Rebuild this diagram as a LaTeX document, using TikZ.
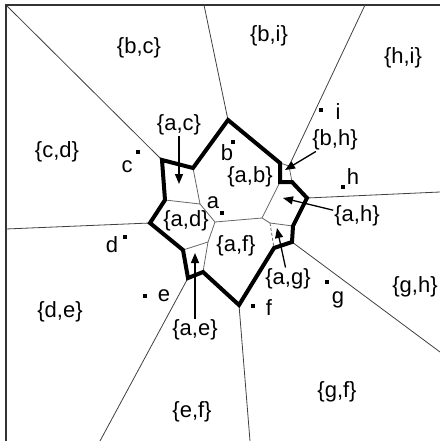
\documentclass[tikz,border=0pt]{standalone}
\usepackage{fontspec}
\setmainfont{Liberation Sans}
\usetikzlibrary{arrows.meta}

\begin{document}
\begin{tikzpicture}[
    x=1pt, y=-1pt,
    every node/.style={font=\fontsize{22}{22}\selectfont, inner sep=1pt},
    outline/.style={line width=4pt, line join=miter},
    split/.style={line width=0.8pt, black!60},
    ray/.style={line width=0.8pt, black!75},
    site/.style={fill=black, minimum size=4pt, inner sep=0pt},
    pointer/.style={-{Triangle[length=10pt,width=8pt]}, line width=1.3pt}
]
\useasboundingbox (0,0) rectangle (440,441);
% Frame
\draw[line width=1.6pt, black!80] (6,441) -- (6,5) -- (440,5);
% Vertices of the outer boundary
\coordinate (v1) at (228,120);
\coordinate (v2) at (280,163);
\coordinate (v3) at (280,182);
\coordinate (v4) at (292,182);
\coordinate (v5) at (307,198);
\coordinate (v6) at (293,226);
\coordinate (v7) at (292,242);
\coordinate (v8) at (274,248);
\coordinate (v9) at (239,305);
\coordinate (v10) at (203,272);
\coordinate (v11) at (188,278);
\coordinate (v12) at (183,250);
\coordinate (v13) at (150,223);
\coordinate (v14) at (165,200);
\coordinate (v15) at (162,160);
\coordinate (v16) at (193,168);
% Inner vertices
\coordinate (i1) at (200,204);
\coordinate (i2) at (215,222);
\coordinate (i3) at (262,218);
\coordinate (i4) at (208,242);
\coordinate (i5) at (270,223);
\coordinate (s1) at (289,166);
% Ends of the rays
\coordinate (ec) at (7,6);
\coordinate (eb) at (204,5);
\coordinate (ebh) at (365,5);
\coordinate (eh) at (440,192);
\coordinate (egh) at (440,352);
\coordinate (ef) at (250,441);
\coordinate (ee) at (100,441);
\coordinate (ed) at (6,229);
% Rays
\draw[ray] (v15) -- (ec);
\draw[ray] (v1) -- (eb);
\draw[ray] (s1) -- (ebh);
\draw[ray] (v5) -- (eh);
\draw[ray] (v7) -- (egh);
\draw[ray] (v9) -- (ef);
\draw[ray] (v11) -- (ee);
\draw[ray] (v13) -- (ed);
% Inner splits
\draw[split] (v16) -- (i1) -- (v14);
\draw[split] (i1) -- (i2) -- (i3) -- (v3);
\draw[split] (i2) -- (i4) -- (v10);
\draw[split] (v12) -- (i4);
\draw[split] (i3) -- (i5) -- (v6);
\draw[split, densely dashed] (i5) -- (v8);
\draw[split] (v2) -- (s1) -- (v4);
% Outer boundary
\draw[outline] (v1) -- (v2) -- (v3) -- (v4) -- (v5) -- (v6) -- (v7) -- (v8)
  -- (v9) -- (v10) -- (v11) -- (v12) -- (v13) -- (v14) -- (v15) -- (v16) -- cycle;
% Sites
\node[site] (a) at (222,213) {};
\node[site] (b) at (233,142) {};
\node[site] (c) at (138,152) {};
\node[site] (d) at (125,237) {};
\node[site] (e) at (145,296) {};
\node[site] (f) at (253,306) {};
\node[site] (g) at (327,282) {};
\node[site] (h) at (343,187) {};
\node[site] (i) at (321,110) {};
\node (la) at (213,203) {a};
\node (lb) at (227,153) {b};
\node (lc) at (127,167) {c};
\node (ld) at (112,245) {d};
\node (le) at (164,296) {e};
\node (lf) at (269,308) {f};
\node (lg) at (338,300) {g};
\node (lh) at (353,177) {h};
\node (li) at (338,112) {i};
% Regions
\node (bc) at (139,48) {\{b,c\}};
\node (bi) at (269,36) {\{b,i\}};
\node (hi) at (403,58) {\{h,i\}};
\node (cd) at (57,152) {\{c,d\}};
\node (ac) at (179,125) {\{a,c\}};
\node (bh) at (335,140) {\{b,h\}};
\node (ab) at (250,177) {\{a,b\}};
\node (ah) at (357,216) {\{a,h\}};
\node (ad) at (186,221) {\{a,d\}};
\node (af) at (236,246) {\{a,f\}};
\node (ag) at (288,279) {\{a,g\}};
\node (ae) at (195,330) {\{a,e\}};
\node (gh) at (415,287) {\{g,h\}};
\node (gf) at (337,392) {\{g,f\}};
\node (ef) at (192,412) {\{e,f\}};
\node (de) at (60,312) {\{d,e\}};
% Pointers
\coordinate (tac) at (179,184);
\coordinate (tbh) at (285,170);
\coordinate (tah) at (283,198);
\coordinate (tag) at (277,228);
\coordinate (tae) at (195,253);
\draw[pointer] (ac) -- (tac);
\draw[pointer] (bh) -- (tbh);
\draw[pointer] (ah) -- (tah);
\draw[pointer] (ag) -- (tag);
\draw[pointer] (ae) -- (tae);
\end{tikzpicture}
\end{document}
